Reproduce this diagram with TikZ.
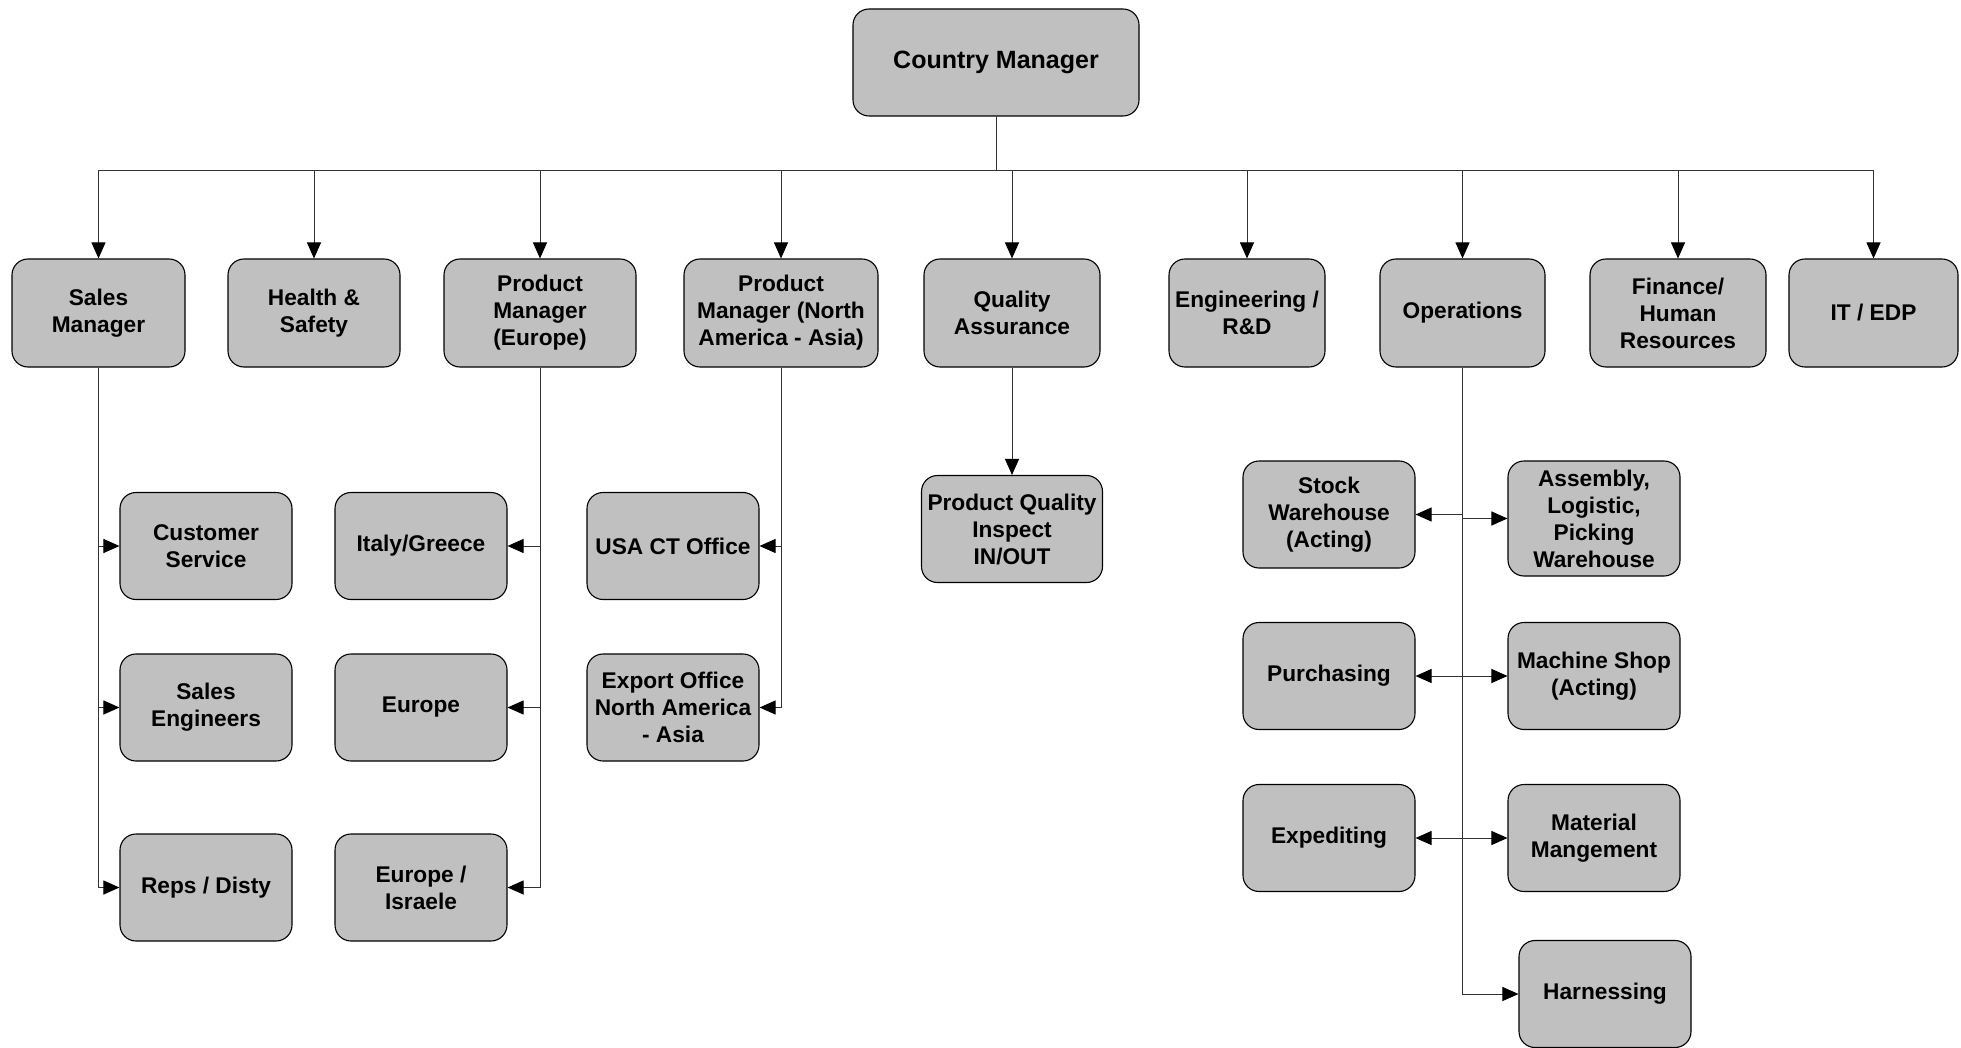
\documentclass[tikz,border=0pt]{standalone}
\usepackage{fontspec}
\setmainfont{Liberation Sans}
\usetikzlibrary{arrows.meta}
\definecolor{boxgray}{RGB}{192,192,192}
\definecolor{linegray}{RGB}{50,50,50}
\tikzset{
  box/.style={draw=black, line width=1.1pt, fill=boxgray, rounded corners=16pt,
    align=center, inner sep=0pt, font=\fontsize{22.7}{27}\selectfont\bfseries},
  lowbox/.style={box, minimum width=172pt, minimum height=107pt},
  topbox/.style={box, minimum height=108pt},
  conn/.style={draw=linegray, line width=1pt, -{Triangle[length=16pt 0 0,width=14pt 0 0,fill=black,color=black]}},
}
\begin{document}
\begin{tikzpicture}[x=1pt,y=-1pt]
\useasboundingbox (0,0) rectangle (1961,1048);
% top
\node[box, minimum width=286pt, minimum height=107pt, font=\fontsize{25}{29}\selectfont\bfseries] (cm) at (996,62.5) {Country Manager};
% second row
\node[topbox, minimum width=173pt] (sm) at (98.5,313) {Sales\\Manager};
\node[topbox, minimum width=172pt] (hs) at (314,313) {Health \&\\Safety};
\node[topbox, minimum width=192pt] (pme) at (540,313) {Product\\Manager\\(Europe)};
\node[topbox, minimum width=194pt] (pmna) at (781,313) {Product\\Manager (North\\America - Asia)};
\node[topbox, minimum width=176pt] (qa) at (1012,313) {Quality\\Assurance};
\node[topbox, minimum width=156pt] (eng) at (1247,313) {Engineering /\\R\&D};
\node[topbox, minimum width=165pt] (ops) at (1462.5,313) {Operations};
\node[topbox, minimum width=176pt] (fin) at (1678,313) {Finance/\\Human\\Resources};
\node[topbox, minimum width=169pt] (it) at (1873.5,313) {IT / EDP};
% sales
\node[lowbox] (cs) at (206,546) {Customer\\Service};
\node[lowbox] (se) at (206,707.5) {Sales\\Engineers};
\node[lowbox] (rd) at (206,887.5) {Reps / Disty};
% pm europe
\node[lowbox] (ig) at (421,546) {Italy/Greece};
\node[lowbox] (eu) at (421,707.5) {Europe};
\node[lowbox] (ei) at (421,887.5) {Europe /\\Israele};
% pm na
\node[lowbox] (usa) at (673,546) {USA CT Office};
\node[lowbox] (exp) at (673,707.5) {Export Office\\North America\\- Asia};
% qa
\node[lowbox, minimum width=181pt] (pq) at (1012,529) {Product Quality\\Inspect\\IN/OUT};
% operations
\node[lowbox] (sw) at (1329,514.5) {Stock\\Warehouse\\(Acting)};
\node[lowbox, minimum height=115pt] (asm) at (1594,518.5) {Assembly,\\Logistic,\\Picking\\Warehouse};
\node[lowbox] (pur) at (1329,676) {Purchasing};
\node[lowbox] (ms) at (1594,676) {Machine Shop\\(Acting)};
\node[lowbox] (exd) at (1329,838) {Expediting};
\node[lowbox] (mm) at (1594,838) {Material\\Mangement};
\node[lowbox] (har) at (1605,994) {Harnessing};
% connectors
\foreach \n in {sm,hs,pme,pmna,qa,eng,ops,fin,it}
  \draw[conn] (cm.south) -- ++(0,54) -| (\n.north);
\foreach \n in {cs,se,rd}
  \draw[conn] (sm.south) |- (\n.west);
\foreach \n in {ig,eu,ei}
  \draw[conn] (pme.south) |- (\n.east);
\foreach \n in {usa,exp}
  \draw[conn] (pmna.south) |- (\n.east);
\draw[conn] (qa.south) -- (pq.north);
\draw[conn] (ops.south) |- (har.west);
\foreach \n in {sw,pur,exd}
  \draw[conn] (ops.south |- \n.east) -- (\n.east);
\foreach \n in {asm,ms,mm}
  \draw[conn] (ops.south |- \n.west) -- (\n.west);
\end{tikzpicture}
\end{document}
